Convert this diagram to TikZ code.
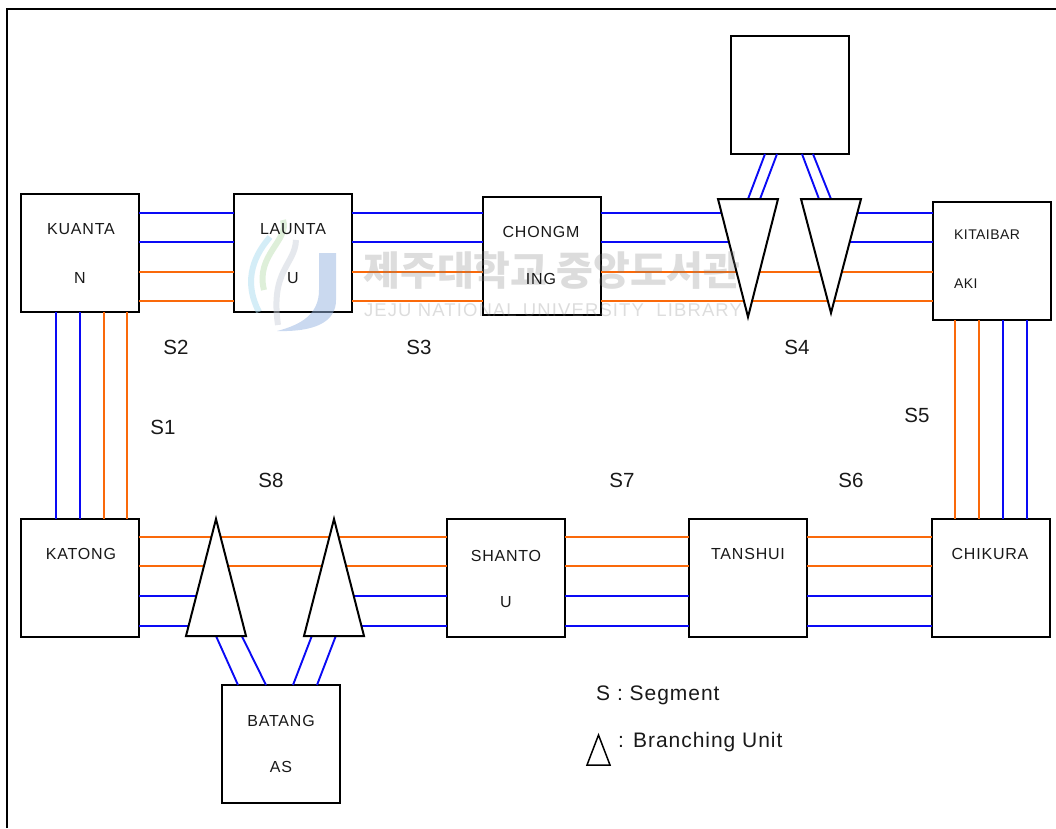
\documentclass[tikz,border=0pt]{standalone}
\usepackage{fontspec}
\setmainfont{Liberation Sans}
\newfontfamily\krfont{Noto Sans CJK KR}
\usetikzlibrary{calc}
\definecolor{railblue}{RGB}{10,10,245}
\definecolor{railorange}{RGB}{250,105,10}
\definecolor{logoblue}{RGB}{150,180,225}
\definecolor{logocyan}{RGB}{170,220,240}
\definecolor{logogreen}{RGB}{190,225,180}
\definecolor{logogray}{RGB}{205,210,220}
\tikzset{
  x=1pt,y=-1pt,
  station/.style={draw=black,line width=2pt,fill=white,minimum width=118pt,minimum height=118pt,inner sep=0pt,outer sep=0pt},
  blueline/.style={draw=railblue,line width=1.9pt},
  orangeline/.style={draw=railorange,line width=1.9pt},
  unit/.style={draw=black,line width=2pt,fill=white,line join=miter},
  stname/.style={font=\fontsize{16}{18}\selectfont\addfontfeature{LetterSpace=5},inner sep=0pt,text=black!90},
  smallname/.style={font=\fontsize{14}{16}\selectfont\addfontfeature{LetterSpace=3},inner sep=0pt,anchor=west,text=black!90},
  seg/.style={font=\fontsize{20.5}{22}\selectfont,inner sep=0pt,text=black!90},
  legendtext/.style={font=\fontsize{21}{23}\selectfont\addfontfeature{LetterSpace=4.6},inner sep=0pt,anchor=west,text=black!90},
}
\begin{document}
\begin{tikzpicture}
\useasboundingbox (0,0) rectangle (1056,828);
% watermark logo (under the boxes' text, over their fill)
% frame
\coordinate (fbl) at (7,828); \coordinate (ftl) at (7,8.5); \coordinate (ftr) at (1056,8.5);
\draw[line width=2pt] (fbl) -- (ftl) -- (ftr);
% rail levels
\coordinate (t1) at (0,213); \coordinate (t2) at (0,242); \coordinate (t3) at (0,272); \coordinate (t4) at (0,301);
\coordinate (b1) at (0,537); \coordinate (b2) at (0,566); \coordinate (b3) at (0,596); \coordinate (b4) at (0,626);
\coordinate (l1) at (56,0); \coordinate (l2) at (80,0); \coordinate (l3) at (104,0); \coordinate (l4) at (127,0);
\coordinate (r1) at (955,0); \coordinate (r2) at (979,0); \coordinate (r3) at (1003,0); \coordinate (r4) at (1027,0);
% stations
\node[station] (kuantan) at (80,253) {};
\node[station] (launtau) at (293,253) {};
\node[station] (chongming) at (541.5,255.5) {};
\node[station] (top) at (789.5,95) {};
\node[station] (kitaibaraki) at (992,261) {};
\node[station] (katong) at (80,578) {};
\node[station] (shantou) at (506,578) {};
\node[station] (tanshui) at (748,578) {};
\node[station] (chikura) at (991,578) {};
\node[station] (batangas) at (281,744) {};
% branching unit corners
\coordinate (ua1) at (718,199); \coordinate (ua2) at (778,199); \coordinate (ua3) at (748,317);
\coordinate (ub1) at (801,199); \coordinate (ub2) at (861,199); \coordinate (ub3) at (831,313);
\coordinate (uc1) at (186,636); \coordinate (uc2) at (246,636); \coordinate (uc3) at (216,519);
\coordinate (ud1) at (304,636); \coordinate (ud2) at (364,636); \coordinate (ud3) at (334,519);
% top horizontal rails
\foreach \a/\b in {kuantan/launtau,launtau/chongming}{
  \draw[blueline] (\a.east |- t1) -- (\b.west |- t1);
  \draw[blueline] (\a.east |- t2) -- (\b.west |- t2);
  \draw[orangeline] (\a.east |- t3) -- (\b.west |- t3);
  \draw[orangeline] (\a.east |- t4) -- (\b.west |- t4);
}
\draw[blueline] (chongming.east |- t1) -- (ua3 |- t1);
\draw[blueline] (chongming.east |- t2) -- (ua3 |- t2);
\draw[blueline] (ub3 |- t1) -- (kitaibaraki.west |- t1);
\draw[blueline] (ub3 |- t2) -- (kitaibaraki.west |- t2);
\draw[orangeline] (chongming.east |- t3) -- (kitaibaraki.west |- t3);
\draw[orangeline] (chongming.east |- t4) -- (kitaibaraki.west |- t4);
% bottom horizontal rails
\draw[orangeline] (katong.east |- b1) -- (shantou.west |- b1);
\draw[orangeline] (katong.east |- b2) -- (shantou.west |- b2);
\draw[blueline] (katong.east |- b3) -- (uc3 |- b3);
\draw[blueline] (katong.east |- b4) -- (uc3 |- b4);
\draw[blueline] (ud3 |- b3) -- (shantou.west |- b3);
\draw[blueline] (ud3 |- b4) -- (shantou.west |- b4);
\foreach \a/\b in {shantou/tanshui,tanshui/chikura}{
  \draw[orangeline] (\a.east |- b1) -- (\b.west |- b1);
  \draw[orangeline] (\a.east |- b2) -- (\b.west |- b2);
  \draw[blueline] (\a.east |- b3) -- (\b.west |- b3);
  \draw[blueline] (\a.east |- b4) -- (\b.west |- b4);
}
% vertical rails
\draw[blueline] (kuantan.south -| l1) -- (katong.north -| l1);
\draw[blueline] (kuantan.south -| l2) -- (katong.north -| l2);
\draw[orangeline] (kuantan.south -| l3) -- (katong.north -| l3);
\draw[orangeline] (kuantan.south -| l4) -- (katong.north -| l4);
\draw[orangeline] (kitaibaraki.south -| r1) -- (chikura.north -| r1);
\draw[orangeline] (kitaibaraki.south -| r2) -- (chikura.north -| r2);
\draw[blueline] (kitaibaraki.south -| r3) -- (chikura.north -| r3);
\draw[blueline] (kitaibaraki.south -| r4) -- (chikura.north -| r4);
% branch links
\draw[blueline] ($(top.south)+(-24.5,0)$) -- ($(ua1)!0.5!(ua2)$);
\draw[blueline] ($(top.south)+(-12.5,0)$) -- ($(ua1)!0.7!(ua2)$);
\draw[blueline] ($(top.south)+(12.5,0)$) -- ($(ub1)!0.3!(ub2)$);
\draw[blueline] ($(top.south)+(23.5,0)$) -- ($(ub1)!0.5!(ub2)$);
\draw[blueline] ($(uc1)!0.5!(uc2)$) -- ($(batangas.north)+(-43,0)$);
\draw[blueline] ($(uc1)!0.93!(uc2)$) -- ($(batangas.north)+(-15,0)$);
\draw[blueline] ($(ud1)!0.13!(ud2)$) -- ($(batangas.north)+(12,0)$);
\draw[blueline] ($(ud1)!0.53!(ud2)$) -- ($(batangas.north)+(36,0)$);
% branching units
\draw[unit] (ua1) -- (ua2) -- (ua3) -- cycle;
\draw[unit] (ub1) -- (ub2) -- (ub3) -- cycle;
\draw[unit] (uc1) -- (uc2) -- (uc3) -- cycle;
\draw[unit] (ud1) -- (ud2) -- (ud3) -- cycle;
% watermark
\begin{scope}[opacity=.27]
\node[inner sep=0pt,text=gray,font=\krfont\bfseries\fontsize{40}{42}\selectfont] (wm1) at (552,270) {제주대학교 중앙도서관};
\node[inner sep=0pt,text=gray,font=\fontsize{18.5}{20}\selectfont\addfontfeature{LetterSpace=6}] (wm2) at (553,310) {JEJU NATIONAL UNIVERSITY\ \ LIBRARY};
\end{scope}
\begin{scope}[opacity=.5]
\fill[logoblue] (319,253) -- (336,253) -- (336,300) .. controls (336,322) and (315,332) .. (277,331) .. controls (300,325) and (319,315) .. (319,290) -- cycle;
\draw[logocyan,line width=6pt] (270,237) .. controls (250,260) and (245,285) .. (259,312);
\draw[logogreen,line width=6pt] (283,220) .. controls (290,240) and (255,255) .. (264,290);
\draw[logogray,line width=6pt] (296,240) .. controls (295,265) and (270,270) .. (278,325);
\end{scope}
% station labels
\node[stname] (n1a) at (81,229) {KUANTA};
\node[stname] (n1b) at (80,278) {N};
\node[stname] (n2a) at (293,229) {LAUNTA};
\node[stname] (n2b) at (293,278) {U};
\node[stname] (n3a) at (541,232) {CHONGM};
\node[stname] (n3b) at (541,279) {ING};
\node[smallname] (n4a) at (954,235) {KITAIBAR};
\node[smallname] (n4b) at (954,284) {AKI};
\node[stname] (n5) at (81,554) {KATONG};
\node[stname] (n6a) at (506,556) {SHANTO};
\node[stname] (n6b) at (506,602) {U};
\node[stname] (n7) at (748,554) {TANSHUI};
\node[stname] (n8) at (990,554) {CHIKURA};
\node[stname] (n9a) at (281,721) {BATANG};
\node[stname] (n9b) at (281,767) {AS};
% segment labels
\node[seg] (s1) at (163,427) {S1};
\node[seg] (s2) at (176,347) {S2};
\node[seg] (s3) at (419,347) {S3};
\node[seg] (s4) at (797,347) {S4};
\node[seg] (s5) at (917,415) {S5};
\node[seg] (s6) at (851,480) {S6};
\node[seg] (s7) at (622,480) {S7};
\node[seg] (s8) at (271,480) {S8};
% legend
\node[legendtext] (leg1) at (596,695) {S : Segment};
\node[legendtext] (leg2) at (618,742) {: Branching Unit};
\coordinate (lg1) at (587,765); \coordinate (lg2) at (610,765); \coordinate (lg3) at (598.5,735);
\draw[line width=1.5pt,line join=miter] (lg1) -- (lg2) -- (lg3) -- cycle;
\end{tikzpicture}
\end{document}
